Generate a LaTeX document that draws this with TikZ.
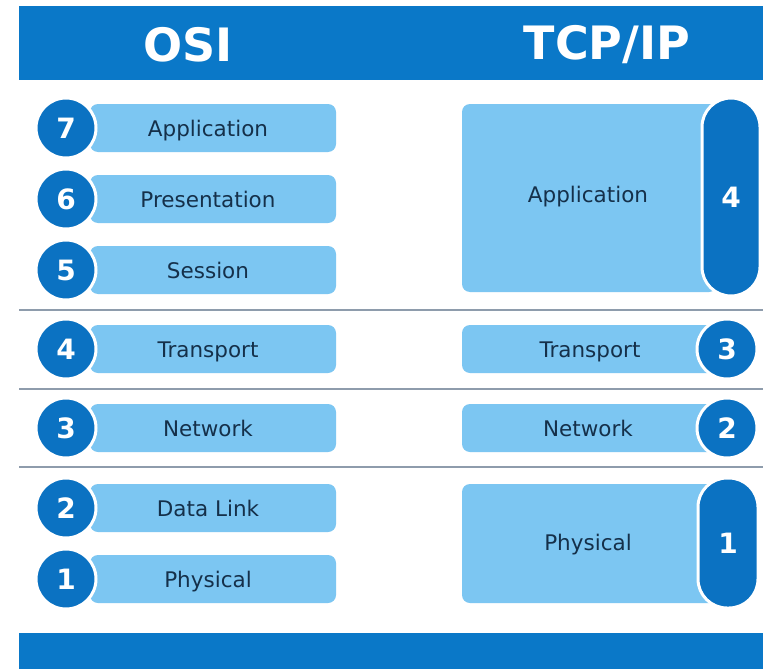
\documentclass[tikz,border=0pt]{standalone}
\usepackage{fontspec}
\setmainfont{DejaVu Sans}
\definecolor{bannerblue}{HTML}{0A78C8}
\definecolor{circblue}{HTML}{0B72C2}
\definecolor{barblue}{HTML}{7CC6F2}
\definecolor{txtnavy}{HTML}{15304A}
\definecolor{sepgray}{HTML}{8E9CAC}
\tikzset{
  banner/.style={fill=bannerblue},
  bar/.style={fill=barblue, rounded corners=8pt, inner sep=0pt},
  lbl/.style={text=txtnavy, font=\fontsize{21.5}{21.5}\selectfont, inner sep=0pt, anchor=base},
  numc/.style={circle, fill=circblue, draw=white, line width=3pt, minimum size=60pt, inner sep=0pt, text=white, font=\bfseries\fontsize{28}{28}\selectfont},
  pill/.style={fill=circblue, draw=white, line width=3pt, rounded corners=29pt, inner sep=0pt, text=white, font=\bfseries\fontsize{28}{28}\selectfont},
  head/.style={text=white, font=\bfseries\fontsize{46}{46}\selectfont, inner sep=0pt},
  sep/.style={draw=sepgray, line width=1.2pt}
}
\begin{document}
\begin{tikzpicture}[x=1pt,y=-1pt]
\useasboundingbox (0,0) rectangle (763,669);
\fill[white] (0,0) rectangle (763,669);
% banners
\fill[banner] (19,6) rectangle (763,80);
\fill[banner] (19,633) rectangle (763,669);
\node[head] (hosi) at (188,45) {OSI};
\node[head] (htcp) at (607,45) {TCP/IP};
% separators
\coordinate (s1a) at (19,310); \coordinate (s1b) at (763,310);
\coordinate (s2a) at (19,389); \coordinate (s2b) at (763,389);
\coordinate (s3a) at (19,467); \coordinate (s3b) at (763,467);
\draw[sep] (s1a) -- (s1b);
\draw[sep] (s2a) -- (s2b);
\draw[sep] (s3a) -- (s3b);
% OSI bars
\foreach \n/\y/\t in {7/128/Application,6/199/Presentation,5/270/Session,4/349/Transport,3/428/Network,2/508/Data Link,1/579/Physical}{
  \node[bar, minimum width=246pt, minimum height=48pt] (ob\n) at (213,\y) {};
  \node[lbl] (ot\n) at (208,\y+8) {\t};
  \node[numc] (oc\n) at (66,\y) {\n};
}
% TCP/IP
\node[bar, minimum width=255pt, minimum height=188pt] (tb4) at (589.5,198) {};
\node[lbl] (tt4) at (588,202) {Application};
\node[pill, minimum width=58pt, minimum height=198pt] (tc4) at (731,197) {4};
\node[bar, minimum width=255pt, minimum height=48pt] (tb3) at (589.5,349) {};
\node[lbl] (tt3) at (590,357) {Transport};
\node[numc] (tc3) at (727,349) {3};
\node[bar, minimum width=255pt, minimum height=48pt] (tb2) at (589.5,428) {};
\node[lbl] (tt2) at (588,436) {Network};
\node[numc] (tc2) at (727,428) {2};
\node[bar, minimum width=255pt, minimum height=119pt] (tb1) at (589.5,543.5) {};
\node[lbl] (tt1) at (588,550) {Physical};
\node[pill, minimum width=60pt, minimum height=130pt] (tc1) at (728,543) {1};
\end{tikzpicture}
\end{document}
